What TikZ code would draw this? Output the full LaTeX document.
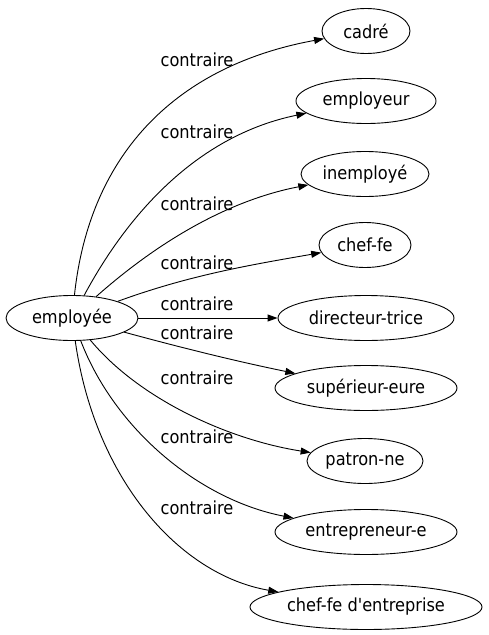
\documentclass[tikz,border=0pt]{standalone}
\usepackage{fontspec}
\setmainfont{DejaVu Sans Condensed}[Ligatures=TeXOff]
\usetikzlibrary{shapes.geometric, arrows.meta}
\newcommand{\lblsize}{\fontsize{18}{20}\selectfont}

\begin{document}
\begin{tikzpicture}[
  x=1pt, y=-1pt,
  word/.style={draw, ellipse, line width=0.9pt, inner sep=0pt, minimum height=45pt, font=\lblsize},
  arr/.style={-{Triangle[length=10pt, width=7pt]}, line width=0.9pt},
  lbl/.style={font=\lblsize, inner sep=1pt}
]
  \useasboundingbox (0,0) rectangle (488,635);

  \node[word, minimum width=132pt] (src) at (72,318) {employée};

  \node[word, minimum width=88pt]  (cadre) at (366,31)  {cadré};
  \node[word, minimum width=140pt] (empl)  at (366,101) {employeur};
  \node[word, minimum width=128pt] (inem)  at (365,174) {inemployé};
  \node[word, minimum width=92pt]  (chef)  at (365,245) {chef-fe};
  \node[word, minimum width=176pt] (dir)   at (366,318) {directeur-trice};
  \node[word, minimum width=182pt] (sup)   at (366,388) {supérieur-eure};
  \node[word, minimum width=116pt] (pat)   at (365,461) {patron-ne};
  \node[word, minimum width=182pt] (entr)  at (366,532) {entrepreneur-e};
  \node[word, minimum width=232pt] (chefe) at (366,607) {chef-fe d'entreprise};

  % contraire edges
  \draw[arr] (src) .. controls (90,150) and (180,65) .. (cadre)
    node[lbl] at (197,60) {contraire};
  \draw[arr] (src) .. controls (130,210) and (200,135) .. (empl)
    node[lbl] at (197,132) {contraire};
  \draw[arr] (src) .. controls (160,240) and (230,200) .. (inem)
    node[lbl] at (197,204) {contraire};
  \draw[arr] (src) .. controls (190,275) and (250,265) .. (chef)
    node[lbl] at (197,263) {contraire};
  \draw[arr] (src) -- (dir)
    node[lbl] at (197,304) {contraire};
  \draw[arr] (src) .. controls (190,350) and (240,362) .. (sup)
    node[lbl] at (197,333) {contraire};
  \draw[arr] (src) .. controls (140,400) and (230,440) .. (pat)
    node[lbl] at (197,378) {contraire};
  \draw[arr] (src) .. controls (115,430) and (200,500) .. (entr)
    node[lbl] at (197,437) {contraire};
  \draw[arr] (src) .. controls (95,480) and (180,575) .. (chefe)
    node[lbl] at (197,508) {contraire};
\end{tikzpicture}
\end{document}
